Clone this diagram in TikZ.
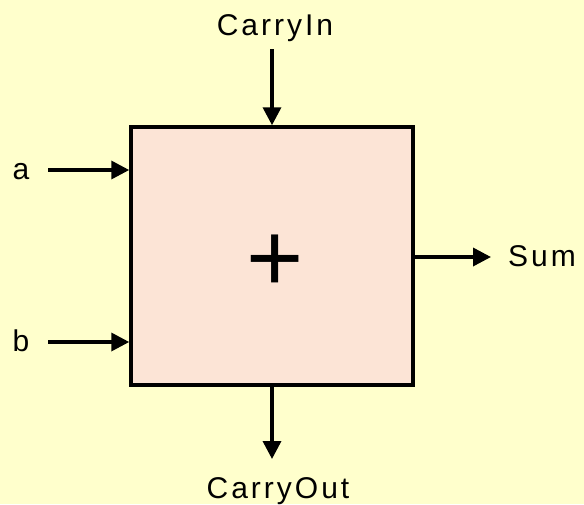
\documentclass[tikz,border=0pt]{standalone}
\usepackage{fontspec}
\setmainfont{Liberation Sans}
\newfontfamily\lblfont[LetterSpace=10]{Liberation Sans}
\usetikzlibrary{arrows.meta}
\definecolor{bg}{HTML}{FFFFCC}
\definecolor{boxfill}{HTML}{FCE4D6}
\begin{document}
\begin{tikzpicture}[x=1pt,y=-1pt,
  lbl/.style={font=\lblfont\fontsize{30}{36}\selectfont, inner sep=0pt, anchor=base},
  arr/.style={line width=3.5pt, -{Triangle[width=18pt,length=18pt]}},
  adderbox/.style={draw, line width=3.5pt, fill=boxfill, minimum width=282pt, minimum height=258pt, inner sep=0pt}]
\fill[bg] (0,0) rectangle (584,504);
\useasboundingbox (0,0) rectangle (584,504);
\node[adderbox] (adder) at (272,256) {};
\node[font=\fontsize{98}{98}\selectfont, inner sep=0pt, anchor=base] (plus) at (275,291) {+};
\node[lbl] (tcin) at (275,35) {CarryIn};
\node[lbl] (tcout) at (278,498) {CarryOut};
\node[lbl, anchor=base west] (tsum) at (508,266) {Sum};
\node[lbl] (ta) at (21,179) {a};
\node[lbl] (tb) at (21,351) {b};
\coordinate (ain) at (48,170);
\coordinate (bin) at (48,342);
\coordinate (cin) at (272,49);
\coordinate (cout) at (272,459);
\coordinate (sumtip) at (491,257);
\draw[arr] (ain) -- (adder.west |- ain);
\draw[arr] (bin) -- (adder.west |- bin);
\draw[arr] (cin) -- (cin |- adder.north);
\draw[arr] (cout |- adder.south) -- (cout);
\draw[arr] (adder.east |- sumtip) -- (sumtip);
\end{tikzpicture}
\end{document}
